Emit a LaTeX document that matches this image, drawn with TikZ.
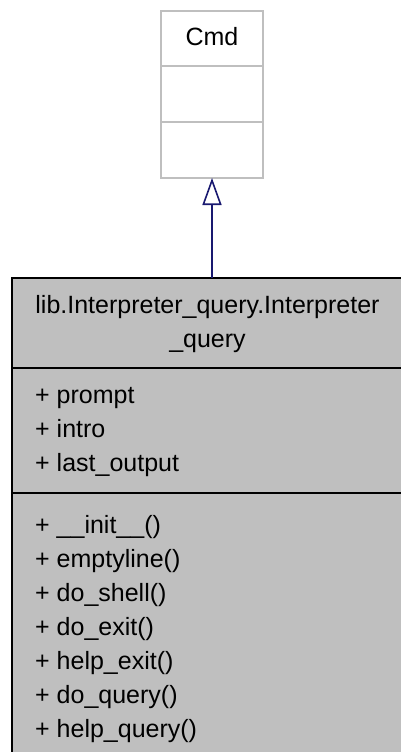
\documentclass[tikz,border=0pt]{standalone}
\usepackage{fontspec}
\setmainfont{Liberation Sans}
\usetikzlibrary{arrows.meta}
\definecolor{boxgray}{HTML}{BFBFBF}
\definecolor{linegray}{HTML}{BFBFBF}
\definecolor{navy}{HTML}{191970}
\begin{document}
\begin{tikzpicture}[x=1pt,y=-1pt,
  txt/.style={inner sep=0pt,font=\fontsize{25}{34}\selectfont},
  member/.style={txt,anchor=base west}]
\useasboundingbox (0,0) rectangle (401,752);
\begin{scope}
\clip (0,0) rectangle (401,752);
% base class Cmd
\draw[linegray,line width=2pt] (161,11) rectangle (263,178);
\draw[linegray,line width=2pt] (161,66) -- (263,66) (161,122) -- (263,122);
\coordinate (cmdbot) at (212,178);
\node[txt,anchor=base] (cmd) at (212,46) {Cmd};
% derived class
\draw[fill=boxgray,line width=2pt] (12,278) rectangle (404,760);
\draw[line width=2pt] (12,368) -- (404,368) (12,493) -- (404,493);
\coordinate (maintop) at (212,278);
\node[txt,anchor=base] (t1) at (207.5,313) {lib.Interpreter\_query.Interpreter};
\node[txt,anchor=base] (t2) at (207.5,347) {\_query};
\node[member] (a1) at (35,403) {+ prompt};
\node[member] (a2) at (35,437) {+ intro};
\node[member] (a3) at (35,471) {+ last\_output};
\node[member] (m1) at (35,533) {+ \_\_init\_\_()};
\node[member] (m2) at (35,567) {+ emptyline()};
\node[member] (m3) at (35,601) {+ do\_shell()};
\node[member] (m4) at (35,635) {+ do\_exit()};
\node[member] (m5) at (35,669) {+ help\_exit()};
\node[member] (m6) at (35,703) {+ do\_query()};
\node[member] (m7) at (35,737) {+ help\_query()};
% inheritance arrow
\draw[navy,line width=1.6pt,-{Triangle[open,length=27pt,width=19pt,line width=1.6pt]}] (maintop) -- (cmdbot);
\end{scope}
\end{tikzpicture}
\end{document}
